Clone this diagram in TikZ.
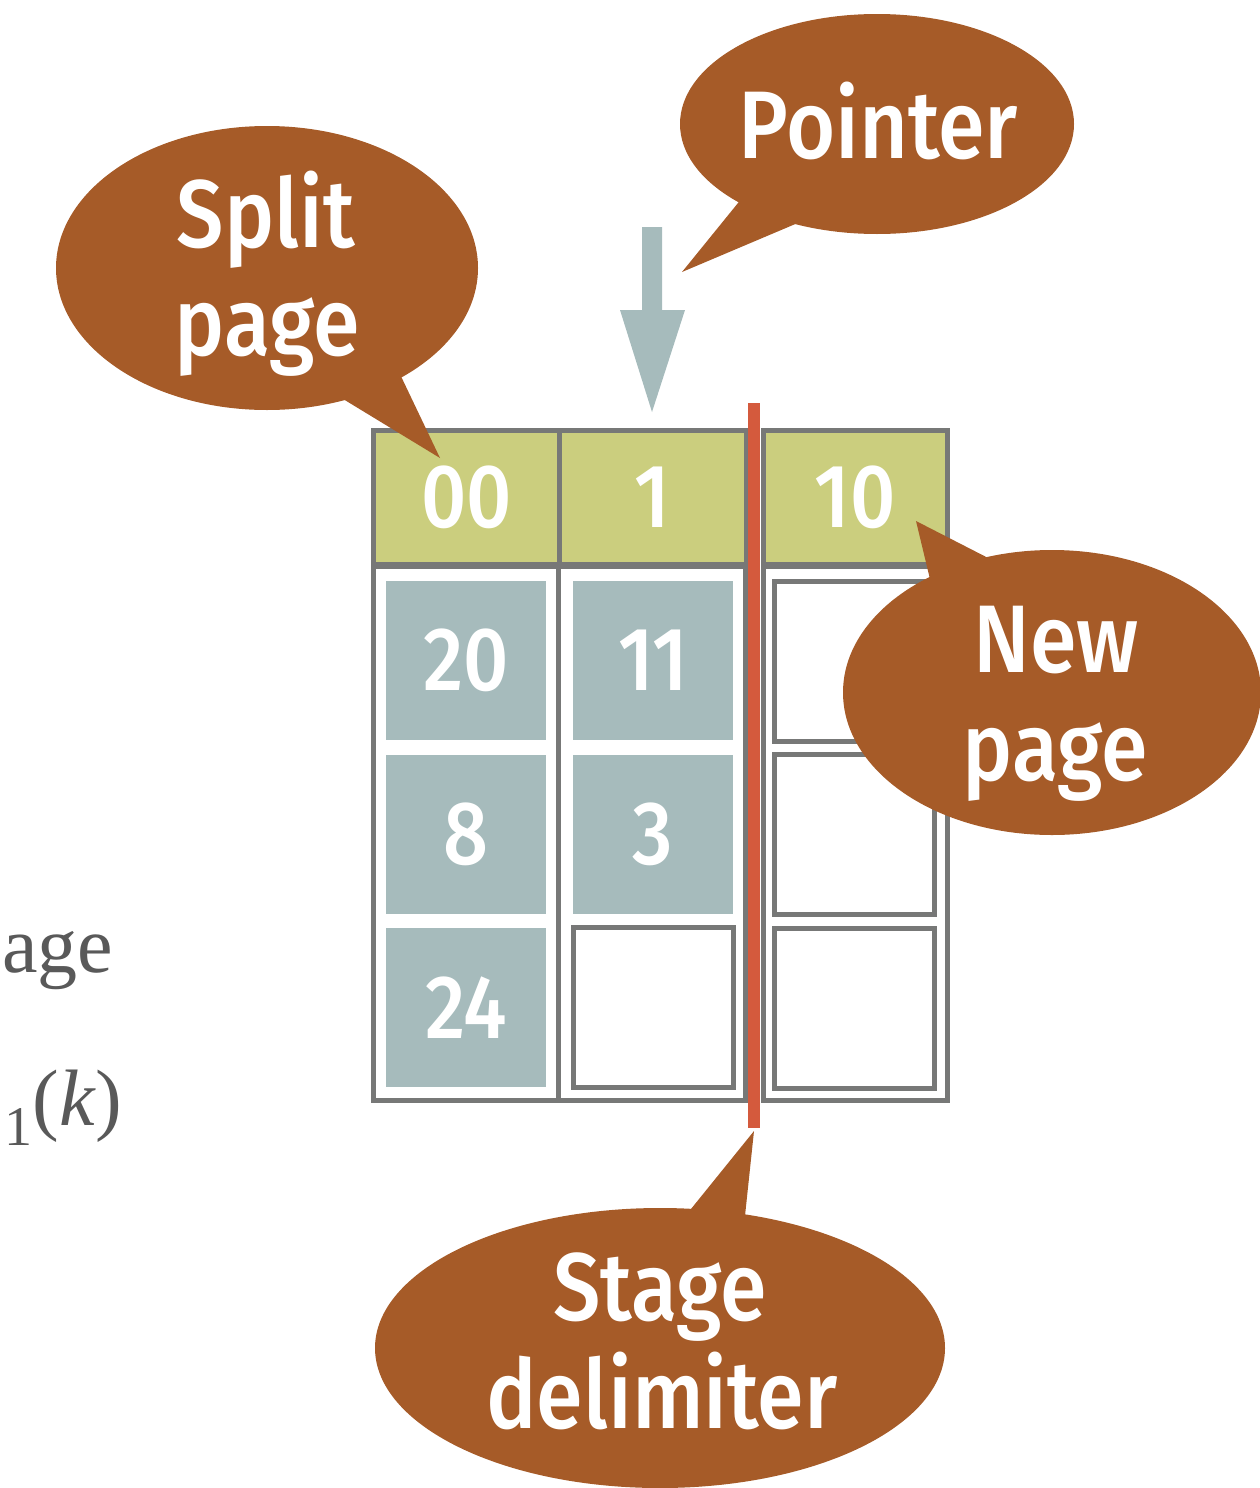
\documentclass[tikz,border=0pt]{standalone}
\usepackage{fontspec}
\setmainfont{Liberation Serif}
\newfontfamily\labelfont{Fira Sans}[UprightFont={* Medium}, FakeStretch=0.88]
\usetikzlibrary{shapes.geometric}

\definecolor{calloutbrown}{HTML}{A65B28}
\definecolor{headgreen}{HTML}{CBCE7E}
\definecolor{slotteal}{HTML}{A6BBBC}
\definecolor{cellgray}{HTML}{777877}
\definecolor{delimred}{HTML}{D45A3D}
\definecolor{sidegray}{HTML}{595959}

\begin{document}
\begin{tikzpicture}[x=0.5pt,y=-0.5pt,
  bubble/.style={ellipse, fill=calloutbrown, inner sep=0pt},
  bubbletext/.style={text=white, inner sep=0pt, anchor=base,
    font=\labelfont\fontsize{48}{54}\selectfont},
  headcell/.style={draw=cellgray, line width=2.5pt, fill=headgreen,
    minimum height=66.75pt, inner sep=0pt, text=white,
    font=\labelfont\fontsize{45}{50}\selectfont},
  pagebox/.style={draw=cellgray, line width=2.5pt, minimum height=267pt,
    inner sep=0pt},
  fullslot/.style={fill=slotteal, minimum width=80pt, minimum height=79.5pt,
    inner sep=0pt, text=white, font=\labelfont\fontsize{45}{50}\selectfont},
  emptyslot/.style={draw=cellgray, line width=2.5pt, fill=white,
    minimum width=80pt, minimum height=80pt, inner sep=0pt},
  sidetext/.style={text=sidegray, inner sep=0pt, anchor=base west,
    font=\fontsize{40}{44}\selectfont},
]
\useasboundingbox (0,0) rectangle (1259,1488);

% side text
\node[sidetext] (sideA) at (2,972) {age};
\node[sidetext] (sideB) at (4,1125)
  {\raisebox{-10pt}{\fontsize{28}{30}\selectfont 1}(\textit{k})};

% header row of the directory
\node[headcell, minimum width=93pt]    (h00) at (466.5,497.25) {00};
\node[headcell, minimum width=93.25pt] (h1)  at (652.75,497.25) {1};
\node[headcell, minimum width=92.25pt] (h10) at (855.25,497.25) {10};

% page boxes
\node[pagebox, minimum width=92.5pt]  (p00) at (466,833) {};
\node[pagebox, minimum width=93.25pt] (p1)  at (651.75,833) {};
\node[pagebox, minimum width=92.25pt] (p10) at (855.25,833) {};

% slots
\node[fullslot] (s00a) at (466,660.5) {20};
\node[fullslot] (s00b) at (466,834) {8};
\node[fullslot] (s00c) at (466,1007.5) {24};
\node[fullslot] (s1a) at (653,660.5) {11};
\node[fullslot] (s1b) at (653,834) {3};
\node[emptyslot] (s1c) at (653.5,1007.5) {};
\node[emptyslot] (s10a) at (854.5,661) {};
\node[emptyslot] (s10b) at (854.5,834) {};
\node[emptyslot] (s10c) at (854.5,1008) {};

% stage delimiter
\coordinate (delimTop) at (754,403);
\coordinate (delimBot) at (754,1128);
\draw[delimred, line width=6pt] (delimTop) -- (delimBot);

% pointer arrow
\fill[slotteal] (642,227) -- (662,227) -- (662,310) -- (685,310) -- (652,412)
  -- (620,310) -- (642,310) -- cycle;

% callout: split page
\node[bubble, minimum width=211pt, minimum height=142pt] (split) at (267,268) {};
\coordinate (splitTip) at (440,458);
\fill[calloutbrown] (398,370) -- (splitTip) -- (338.8,396.4) -- cycle;
\node[bubbletext] (splitA) at (266,247) {Split};
\node[bubbletext] (splitB) at (267,355) {page};

% callout: pointer
\node[bubble, minimum width=197pt, minimum height=110pt] (ptr) at (877,124) {};
\coordinate (ptrTip) at (682,272);
\fill[calloutbrown] (743.6,196.1) -- (ptrTip) -- (804.1,220.3) -- cycle;
\node[bubbletext] (ptrA) at (878.5,158) {Pointer};

% callout: new page
\node[bubble, minimum width=209pt, minimum height=142.5pt] (new) at (1052,692.5) {};
\coordinate (newTip) at (916,521);
\fill[calloutbrown] (931.8,586.7) -- (newTip) -- (995,561.5) -- cycle;
\node[bubbletext] (newA) at (1056,672) {New};
\node[bubbletext] (newB) at (1055,780) {page};

% callout: stage delimiter
\node[bubble, minimum width=285pt, minimum height=140pt] (stage) at (660,1348) {};
\coordinate (stageTip) at (754,1131);
\fill[calloutbrown] (682.4,1219.6) -- (stageTip) -- (744,1225.2) -- cycle;
\node[bubbletext] (stageA) at (660,1320) {Stage};
\node[bubbletext] (stageB) at (662,1428) {delimiter};
\end{tikzpicture}
\end{document}
